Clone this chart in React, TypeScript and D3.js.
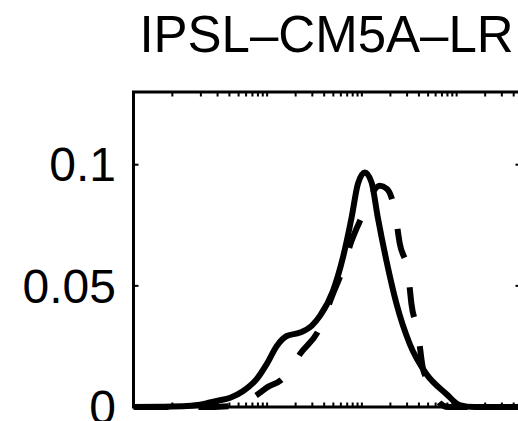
import React from "react";
import * as d3 from "d3";

const TITLE = "IPSL–CM5A–LR";

// x positions (log-scale quantity) and densities
const solidX = [0.389, 0.748, 1.43, 2.22, 2.95, 4.08, 5.59, 7.79, 9.93, 12.65, 16.1, 22.2, 29.5, 36.1, 49.5, 63.1, 77.9, 90.8, 107.5, 126.5, 147.3, 181.8, 231.9, 320, 479.6, 779, 1075, 1546, 4720];
const solidY = [0, 0.0001, 0.0004, 0.0014, 0.0025, 0.0038, 0.0066, 0.0116, 0.0178, 0.0252, 0.0293, 0.0307, 0.0335, 0.0376, 0.0479, 0.0617, 0.0782, 0.0921, 0.0968, 0.0927, 0.0782, 0.0603, 0.0426, 0.026, 0.0136, 0.0054, 0.0008, 0, 0];

const dashX = [0.389, 1.97, 4.08, 5.87, 7.47, 10.2, 14.3, 18.3, 22.2, 34.7, 49.5, 61.1, 77.9, 103.2, 127.4, 154.6, 183.2, 222.4, 251.3, 307, 333.4, 391.5, 438.9, 507, 586.6, 661.9, 804, 4720];
const dashY = [0, 0, 0.0004, 0.0021, 0.0045, 0.0083, 0.0114, 0.0165, 0.0218, 0.0314, 0.0467, 0.0555, 0.0686, 0.0798, 0.088, 0.0913, 0.0901, 0.081, 0.0674, 0.0555, 0.0426, 0.0307, 0.0162, 0.0103, 0.0054, 0.0017, 0, 0];

const yTicks = [0, 0.05, 0.1];
const yTickLabels = ["0", "0.05", "0.1"];
const xDecades = [1, 10, 100, 1000];
const xDomain = [0.389, 4720];
const yDomain = [0, 0.13];

export default function App() {
  const left = 133.5, right = 520.5, top = 92, bottom = 407;
  const x = d3.scaleLog().domain(xDomain).range([left, right]);
  const y = d3.scaleLinear().domain(yDomain).range([bottom, top]);

  const line = d3
    .line<[number, number]>()
    .x((d) => x(d[0]))
    .y((d) => y(d[1]))
    .curve(d3.curveMonotoneX);

  const solid = line(solidX.map((v, i) => [v, solidY[i]]) as [number, number][]) || "";
  const dashed = line(dashX.map((v, i) => [v, dashY[i]]) as [number, number][]) || "";

  const xTicks: number[] = [];
  xDecades.forEach((d) => {
    for (let k = 1; k <= 9; k++) {
      const v = d * k;
      if (v >= xDomain[0] && v <= xDomain[1]) xTicks.push(v);
    }
  });

  const font = "'Liberation Sans', Arial, Helvetica, sans-serif";

  return (
    <svg
      width={518}
      height={421}
      style={{ position: "absolute", left: 0, top: 0, background: "#fff" }}
    >
      <rect width={518} height={421} fill="#fff" />
      <text x={326.5} y={52} textAnchor="middle" fontFamily={font} fontSize={51} fill="#000">
        {TITLE}
      </text>
      {/* x ticks */}
      {xTicks.map((t, i) => (
        <g key={i}>
          <line x1={x(t)} x2={x(t)} y1={bottom} y2={bottom - 4.5} stroke="#000" strokeWidth={2} />
          <line x1={x(t)} x2={x(t)} y1={top} y2={top + 4.5} stroke="#000" strokeWidth={2} />
        </g>
      ))}
      {/* y ticks */}
      {yTicks.map((t, i) => (
        <g key={i}>
          <line x1={left} x2={left + 5} y1={y(t)} y2={y(t)} stroke="#000" strokeWidth={2} />
          <line x1={right} x2={right - 5} y1={y(t)} y2={y(t)} stroke="#000" strokeWidth={2} />
          <text
            x={116}
            y={y(t)}
            dy="0.35em"
            textAnchor="end"
            fontFamily={font}
            fontSize={48}
            fill="#000"
          >
            {yTickLabels[i]}
          </text>
        </g>
      ))}
      <path d={dashed} fill="none" stroke="#000" strokeWidth={6} strokeDasharray="30 30" strokeDashoffset={-5} />
      <path d={solid} fill="none" stroke="#000" strokeWidth={6} strokeLinejoin="round" />
      <rect x={left} y={top} width={right - left} height={bottom - top} fill="none" stroke="#000" strokeWidth={3} />
    </svg>
  );
}
